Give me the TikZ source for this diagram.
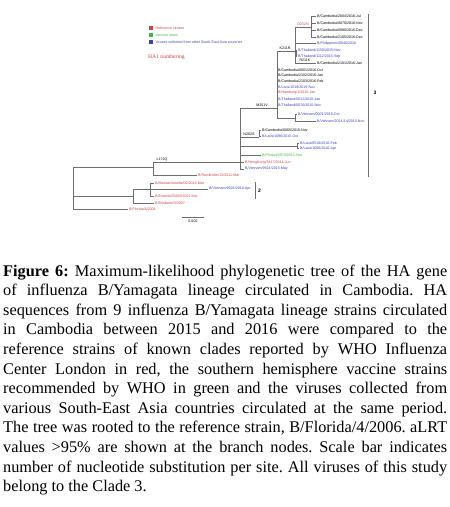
\documentclass[tikz,border=0pt]{standalone}
\usepackage{fontspec}
\setmainfont{Liberation Serif}
\newfontfamily\treefont{Liberation Sans}
\usetikzlibrary{positioning}
\definecolor{refred}{HTML}{D0413F}
\definecolor{vacgreen}{HTML}{3DB93D}
\definecolor{seablue}{HTML}{3A3FC4}
\definecolor{branch}{HTML}{6E6E6E}
\frenchspacing

\begin{document}
\begin{tikzpicture}[x=1pt, y=-1pt,
    leaf/.style={anchor=west, inner sep=1pt, font=\treefont\fontsize{3.6}{4}\selectfont},
    mut/.style={anchor=south, inner sep=0.5pt, font=\treefont\fontsize{3.6}{4}\selectfont},
    branchline/.style={draw=branch, line width=0.6pt},
    keybox/.style={minimum size=4.2pt, inner sep=0pt}
  ]
  \useasboundingbox[fill=white] (0,0) rectangle (450,507);

  % legend
  \node[keybox, fill=refred] (kred) at (151,28) {};
  \node[keybox, fill=vacgreen] (kgreen) at (151,35) {};
  \node[keybox, fill=seablue] (kblue) at (151,42) {};
  \node[leaf, text=refred, right=1pt of kred] (tred) {Reference viruses};
  \node[leaf, text=vacgreen, right=1pt of kgreen] (tgreen) {Vaccine strain};
  \node[leaf, text=seablue, right=1pt of kblue] (tblue) {Viruses collected from other South-East Asia countries};
  \node[anchor=west, inner sep=0pt, text=refred, font=\fontsize{5.6}{6}\selectfont] (hanum) at (148,57) {HA1 numbering};

  % internal nodes
  \coordinate (root) at (73,188);
  \coordinate (up) at (153,167);
  \coordinate (low) at (133,196);
  \coordinate (l2) at (150,189);
  \coordinate (c3) at (240,162);
  \coordinate (m) at (277,108);
  \coordinate (s) at (295,51);
  \coordinate (t) at (311,27);
  \coordinate (th) at (296,53.5);
  \coordinate (v) at (295,118);
  \coordinate (q) at (259,137);
  \coordinate (lp) at (297,146);

  % leaves
  \node[leaf] (t1) at (316,16) {B/Cambodia/2004/2016-Jul};
  \node[leaf] (t2) at (316,23) {B/Cambodia/0070/2016-Nov};
  \node[leaf] (t3) at (316,30) {B/Cambodia/0080/2016-Dec};
  \node[leaf] (t4) at (316,37) {B/Cambodia/2105/2016-Dec};
  \node[leaf, text=seablue] (phil) at (316,43.5) {B/Philippines/0046/2016};
  \node[leaf, text=seablue] (th1) at (297,50.5) {B/Thailand/1150/2015-Nov};
  \node[leaf, text=seablue] (th2) at (297,56.5) {B/Thailand/1112/2015-Sep};
  \node[leaf] (c2101) at (316,63) {B/Cambodia/2101/2016-Jan};
  \node[leaf] (c0001) at (277,70) {B/Cambodia/0001/2016-Oct};
  \node[leaf] (c2102) at (277,75.5) {B/Cambodia/2102/2016-Jan};
  \node[leaf] (c2103) at (277,81) {B/Cambodia/2103/2016-Feb};
  \node[leaf, text=seablue] (lao1) at (277,87) {B/Laos/1016/2015-Nov};
  \node[leaf, text=refred] (hbg) at (277,93) {B/Hamburg/1/2015-Jan};
  \node[leaf, text=seablue] (th3) at (277,99) {B/Thailand/0012/2015-Jan};
  \node[leaf, text=seablue] (th4) at (277,105) {B/Thailand/0070/2015-Nov};
  \node[leaf, text=seablue] (vn1) at (297,114.5) {B/Vietnam/0001/2015-Oct};
  \node[leaf, text=seablue] (vn2) at (316,121.5) {B/Vietnam/2014/14/2015-Nov};
  \node[leaf] (c0065) at (261,130) {B/Cambodia/0065/2015-Nov};
  \node[leaf, text=seablue] (lao2) at (261,136) {B/Laos/1086/2015-Oct};
  \node[leaf, text=seablue] (lao3) at (299,143) {B/Laos/0518/2016-Feb};
  \node[leaf, text=seablue] (lao4) at (299,148.5) {B/Laos/1006/2016-Apr};
  \node[leaf, text=vacgreen] (phk) at (261,155) {B/Phuket/3073/2013-Nov};
  \node[leaf, text=refred] (hk) at (244,162.5) {B/HongKong/3417/2014-Jun};
  \node[leaf, text=seablue] (vn3) at (244,169) {B/Vietnam/9924/2015-May};
  \node[leaf, text=refred] (stk) at (197,175) {B/Stockholm/12/2011-Mar};
  \node[leaf, text=refred] (mas) at (154,183) {B/Massachusetts/02/2012-Mar};
  \node[leaf, text=seablue] (vn4) at (208,189) {B/Vietnam/9526/2010-Apr};
  \node[leaf, text=refred] (est) at (154,196) {B/Estonia/55669/2011-Mar};
  \node[leaf, text=refred] (bri) at (154,203) {B/Brisbane/3/2007};
  \node[leaf, text=refred] (flo) at (128,209) {B/Florida/4/2006};

  % branches
  \foreach \p/\c in {root/up, root/low, root/flo, up/c3, up/stk, low/l2, low/bri,
      l2/mas, l2/vn4, l2/est, c3/m, c3/q, c3/lp, c3/phk, c3/hk, c3/vn3,
      m/s, m/c0001, m/c2102, m/c2103, m/lao1, m/hbg, m/th3, m/th4, m/v,
      s/t, s/phil, s/th, s/c2101, t/t1, t/t2, t/t3, t/t4, th/th1, th/th2,
      v/vn1, v/vn2, q/c0065, q/lao2, lp/lao3, lp/lao4}
    \draw[branchline] (\p) |- (\c);

  % substitutions
  \node[mut, text=refred] (mutt) at (303,26.5) {D232N};
  \node[mut] (muts) at (285,50.5) {K211R};
  \node[mut] (mutc) at (305,62.5) {R211K};
  \node[mut] (mutm) at (262,107.5) {M251V};
  \node[mut] (mutq) at (249,136.5) {N202S};
  \node[mut] (mutu) at (162,161.5) {L172Q};

  % clades
  \coordinate (b3top) at (368,14);
  \coordinate (b3bot) at (368,177);
  \draw[branchline] (b3top) -- (b3bot);
  \node[inner sep=0pt, font=\treefont\bfseries\fontsize{5}{5}\selectfont] (cl3) at (375,93) {3};
  \coordinate (b2top) at (255,182);
  \coordinate (b2bot) at (255,199);
  \draw[branchline] (b2top) -- (b2bot);
  \node[inner sep=0pt, font=\treefont\bfseries\fontsize{5}{5}\selectfont] (cl2) at (259.5,191) {2};

  % scale bar
  \coordinate (sbl) at (182,217);
  \coordinate (sbr) at (204,217);
  \draw[branchline] (sbl) -- (sbr);
  \node[mut, anchor=north] (sbtxt) at (193,219.5) {0.002};

  % caption
  \node[anchor=north west, inner sep=0pt, text width=444pt, align=justify,
        font=\fontsize{16.3}{19.6}\selectfont] (caption) at (3,264.5) {%
    \textbf{Figure 6:} Maximum-likelihood phylogenetic tree of the HA gene\linebreak
    of influenza B/Yamagata lineage circulated in Cambodia. HA\linebreak
    sequences from 9 influenza B/Yamagata lineage strains circulated\linebreak
    in Cambodia between 2015 and 2016 were compared to the\linebreak
    reference strains of known clades reported by WHO Influenza\linebreak
    Center London in red, the southern hemisphere vaccine strains\linebreak
    recommended by WHO in green and the viruses collected from\linebreak
    various South-East Asia countries circulated at the same period.\linebreak
    The tree was rooted to the reference strain, B/Florida/4/2006. aLRT\linebreak
    values >95\% are shown at the branch nodes. Scale bar indicates\linebreak
    number of nucleotide substitution per site. All viruses of this study\linebreak
    belong to the Clade 3.};
\end{tikzpicture}
\end{document}
